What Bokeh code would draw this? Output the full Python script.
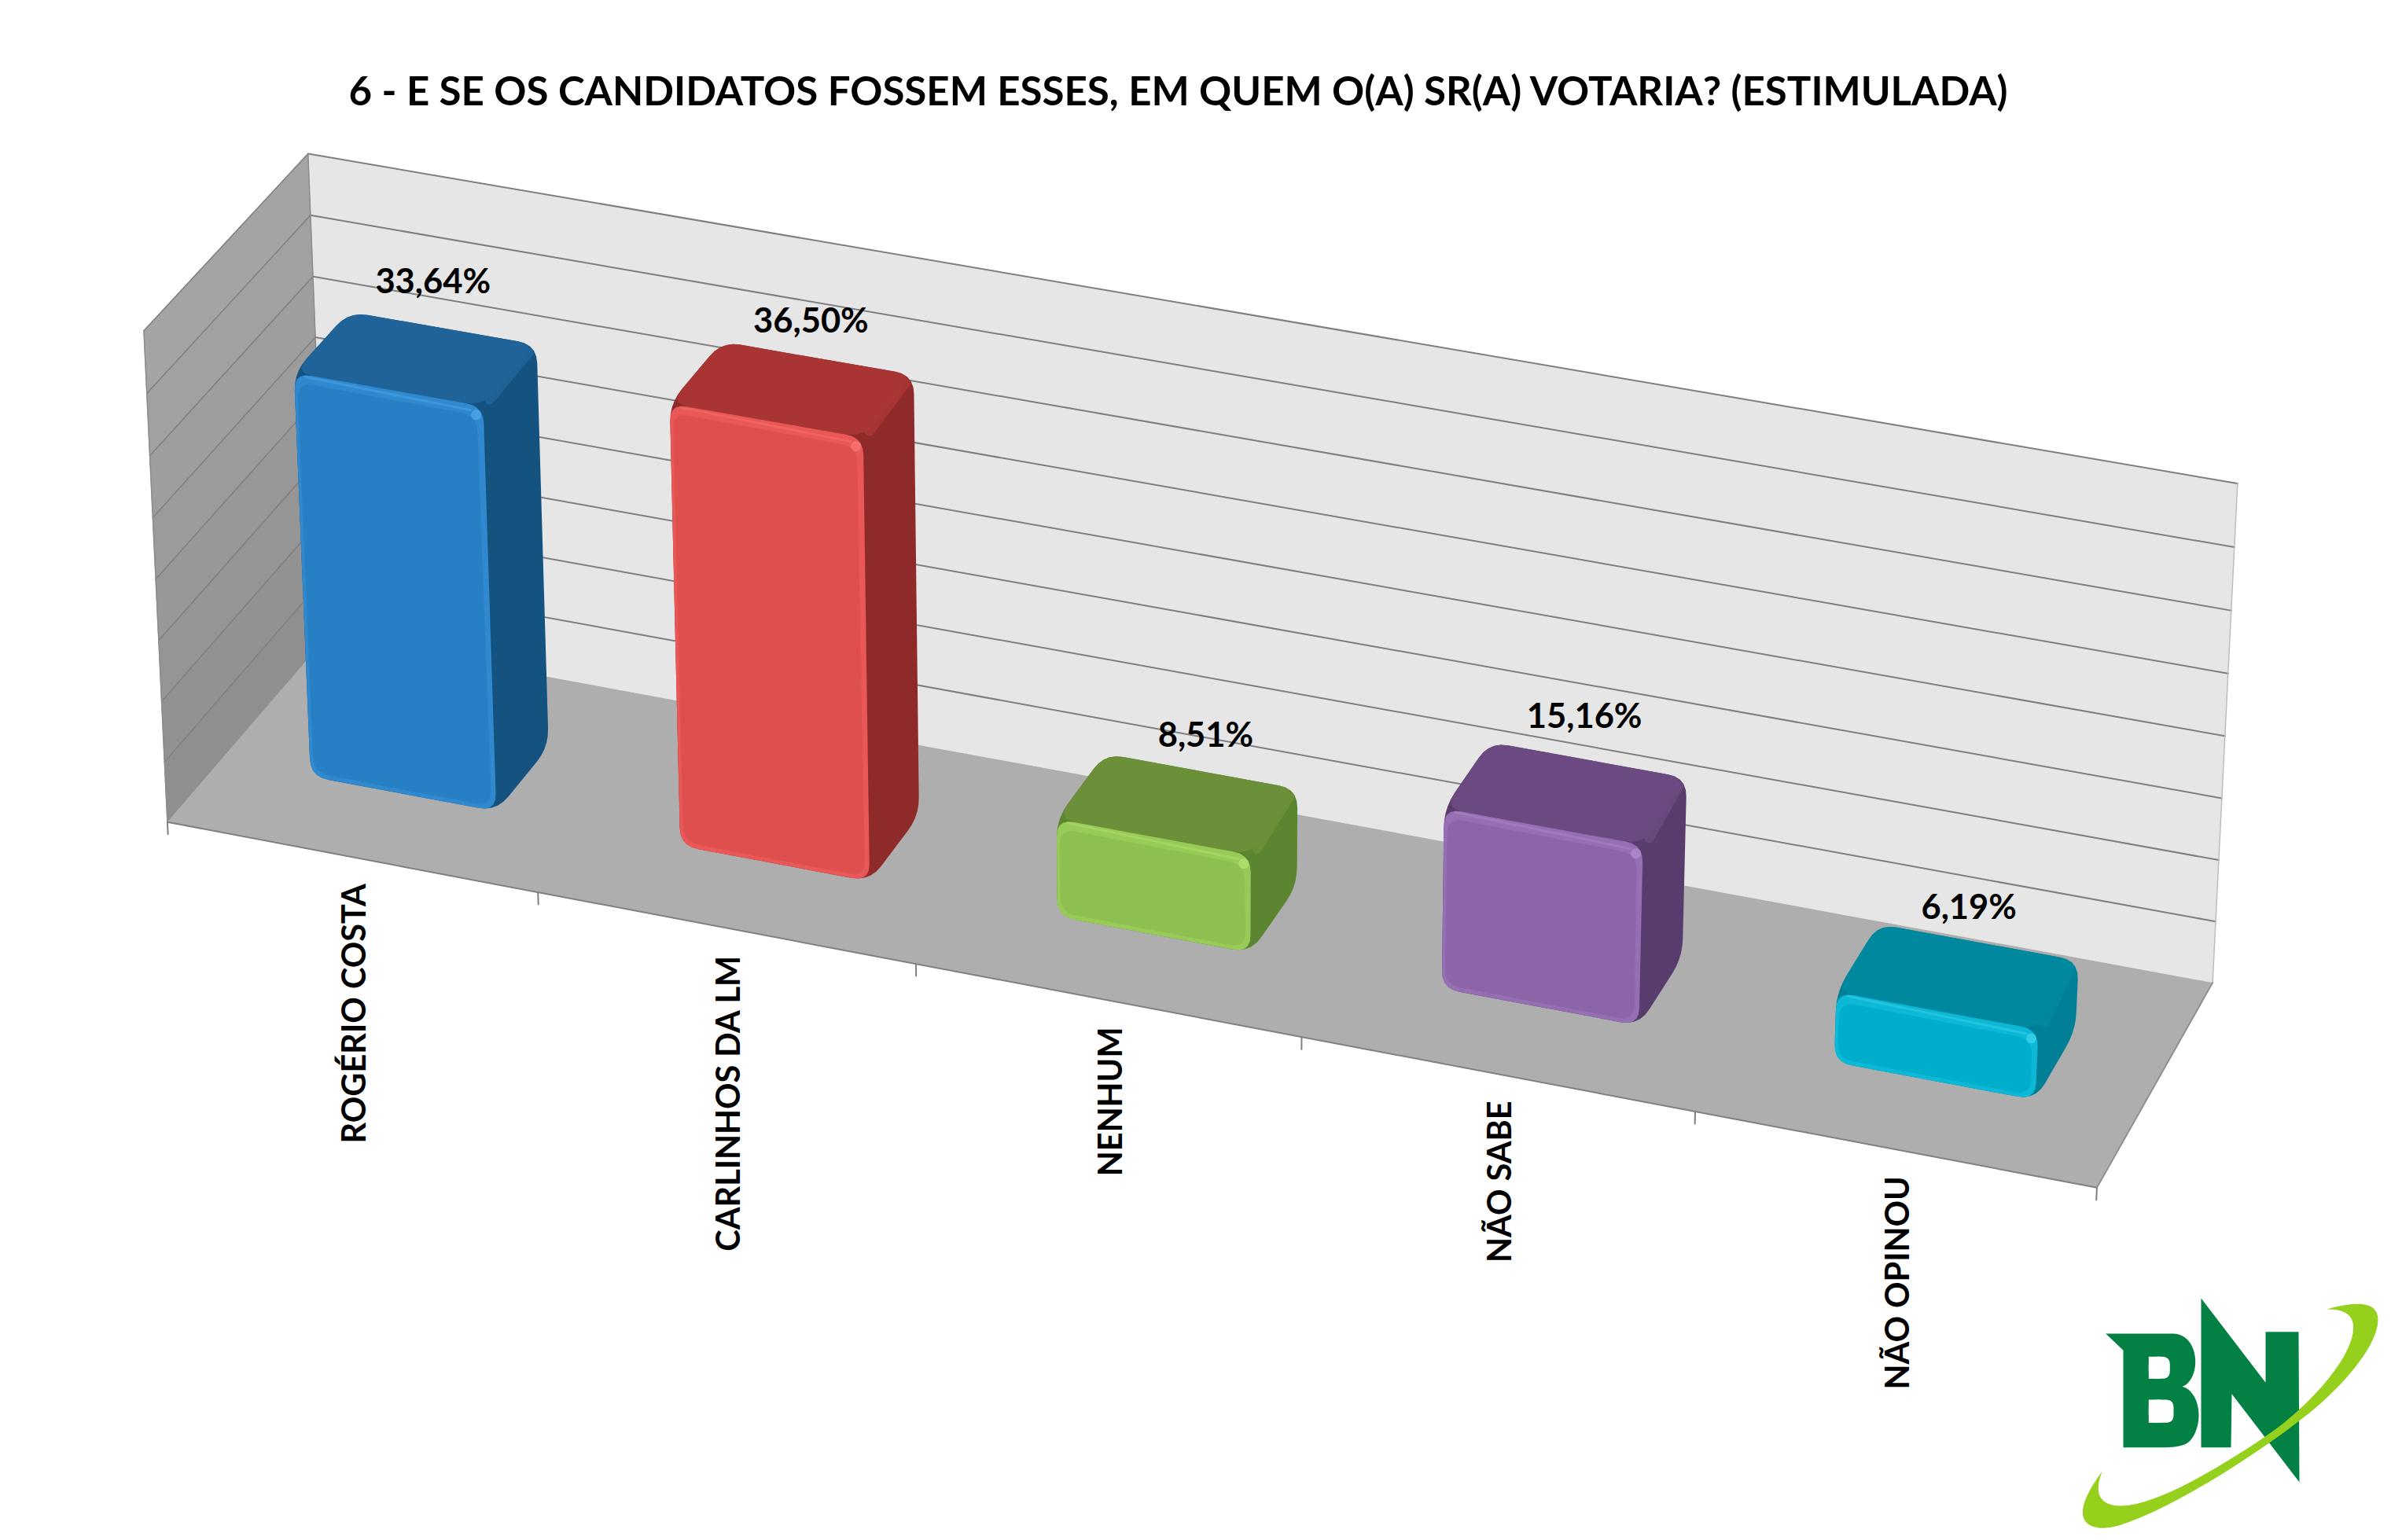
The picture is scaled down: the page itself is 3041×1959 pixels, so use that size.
import numpy as np
from bokeh.plotting import figure
from bokeh.embed import file_html
from bokeh.resources import INLINE
from bokeh.core.properties import value as fontv

# ---------- data ----------
title_text = "6 - E SE OS CANDIDATOS FOSSEM ESSES, EM QUEM O(A) SR(A) VOTARIA? (ESTIMULADA)"
categories = ["ROGÉRIO COSTA", "CARLINHOS DA LM", "NENHUM", "NÃO SABE", "NÃO OPINOU"]
percentages = [33.64, 36.50, 8.51, 15.16, 6.19]
value_labels = ["33,64%", "36,50%", "8,51%", "15,16%", "6,19%"]
axis_max = 40
axis_step = 5

# ---------- styles ----------
front_colors = ["#2880C4", "#DE4F4D", "#8FBF51", "#8C64A8", "#00AECB"]
rim_colors = ["#3089CF", "#E95856", "#98CA57", "#966EB2", "#0CB8D5"]
spot_colors = ["#4FA6E8", "#F77472", "#B4E06E", "#AE8ACA", "#3DD2EA"]
top_colors = ["#1F6399", "#A83534", "#6C9039", "#6A4A80", "#00889F"]
side_colors = ["#14527F", "#8E2B2A", "#5B8530", "#583C6D", "#007F96"]
label_dx = [-23, -19, -4, -14, -21]
label_dy = [4, 16, 18, 8, 20]
FONT = fontv("Lato")
W, H = 3033, 1951
OFF = 0

# ---------- 3D chart space -> picture (perspective camera fitted on the box corners) ----------
calib = [((0, 0, 0), (213, 1043)), ((5, 0, 0), (2668, 1510)), ((0, 1, 0), (415, 812)),
         ((5, 1, 0), (2814, 1247)), ((0, 1, 1), (392, 193)), ((5, 1, 1), (2845, 616)),
         ((0, 0, 1), (182, 421)), ((1, 0, 0), (684, 1134)), ((2, 0, 0), (1165, 1227)),
         ((3, 0, 0), (1654, 1318)), ((4, 0, 0), (2154, 1415))]
A = []
for (X, Y, Z), (x, y) in calib:
    x, y = x / 1000, y / 1000
    A.append([X, Y, Z, 1, 0, 0, 0, 0, -x * X, -x * Y, -x * Z, -x])
    A.append([0, 0, 0, 0, X, Y, Z, 1, -y * X, -y * Y, -y * Z, -y])
P = np.linalg.svd(np.array(A, float))[2][-1].reshape(3, 4)


def pr(u, v, val):
    q = P @ np.array([u, v, val / axis_max, 1.0])
    return np.array([q[0] / q[2] * 1000, q[1] / q[2] * 1000])


def rounded(pts, r, n=6):
    pts = [np.array(p, float) for p in pts]
    out = []
    m = len(pts)
    for i in range(m):
        a, b, c = pts[i - 1], pts[i], pts[(i + 1) % m]
        rr1 = min(r, np.linalg.norm(a - b) * 0.45)
        rr2 = min(r, np.linalg.norm(c - b) * 0.45)
        s = b + (a - b) / np.linalg.norm(a - b) * rr1
        e = b + (c - b) / np.linalg.norm(c - b) * rr2
        for t in np.linspace(0, 1, n):
            out.append((1 - t) ** 2 * s + 2 * t * (1 - t) * b + t ** 2 * e)
    return np.array(out)


p = figure(width=W, height=H, output_backend="svg", toolbar_location=None,
           x_range=(OFF, OFF + W), y_range=(OFF + H, OFF),
           x_axis_type=None, y_axis_type=None, min_border=0,
           outline_line_color=None, background_fill_color="white")
p.grid.visible = False
p.border_fill_color = "white"


def poly(pts, **kw):
    pts = np.array(pts)
    p.patch(pts[:, 0], pts[:, 1], line_color=kw.pop("line_color", None), **kw)


def seg(pts, color, width, alpha=1.0):
    pts = np.array(pts)
    p.line(pts[:, 0], pts[:, 1], line_color=color, line_width=width, line_alpha=alpha, line_cap="round")


# ---------- walls ----------
n_cat = len(categories)
levels = list(range(0, axis_max + 1, axis_step))
poly([pr(0, 1, 0), pr(n_cat, 1, 0), pr(n_cat, 1, axis_max), pr(0, 1, axis_max)], fill_color="#E6E6E6")
side_shades = ["#8F8F8F", "#929292", "#959595", "#989898", "#9B9B9B", "#9E9E9E", "#A1A1A1", "#A4A4A4"]
for i in range(len(levels) - 1):
    poly([pr(0, 0, levels[i]), pr(0, 1, levels[i]), pr(0, 1, levels[i + 1]), pr(0, 0, levels[i + 1])],
         fill_color=side_shades[i], line_color=side_shades[i], line_width=1)
poly([pr(0, 0, 0), pr(n_cat, 0, 0), pr(n_cat, 1, 0), pr(0, 1, 0)], fill_color="#AEAEAE")
for lv in levels:
    if lv == 0:
        continue
    seg([pr(0, 1, lv), pr(n_cat, 1, lv)], "#7F7F7F", 2)
    seg([pr(0, 0, lv), pr(0, 1, lv)], "#7F7F7F", 1.5)
seg([pr(0, 1, axis_max), pr(0, 1, 0)], "#8C8C8C", 1.5)
seg([pr(n_cat, 1, axis_max), pr(n_cat, 1, 0)], "#BDBDBD", 1.5)
seg([pr(0, 0, axis_max), pr(0, 0, 0)], "#8C8C8C", 1.5)
seg([pr(0, 0, 0), pr(n_cat, 0, 0)], "#808080", 2)
seg([pr(n_cat, 0, 0), pr(n_cat, 1, 0)], "#909090", 2)
for i in range(n_cat + 1):
    seg([pr(i, 0, 0), pr(i, 0, -1.0)], "#808080", 2)

# ---------- bars ----------
U0, U1, V0, V1 = 0.245, 0.75, 0.33, 0.67
BEVEL = 0.5   # the rounded bevel eats a little of the top of each bar
for i, val in enumerate(percentages):
    u0, u1 = i + U0, i + U1
    t = val - BEVEL
    fbl, fbr = pr(u0, V0, 0), pr(u1, V0, 0)
    ftl, ftr = pr(u0, V0, t), pr(u1, V0, t)
    bbr = pr(u1, V1, 0)
    btr, btl = pr(u1, V1, t), pr(u0, V1, t)
    poly(rounded([fbl, fbr, bbr, btr, btl, ftl], 24), fill_color=side_colors[i])
    poly(rounded([ftl, ftr, btr, btl], 24), fill_color=top_colors[i])
    seg([ftr + (8, -8), btr + (-10, 10)], top_colors[i], 12, 0.9)
    poly(rounded([fbl, fbr, ftr, ftl], 22), fill_color=rim_colors[i])
    inner = [fbl + (4, -5), fbr + (-6, -6), ftr + (-8, 12), ftl + (4, 12)]
    poly(rounded(inner, 20), fill_color=front_colors[i])
    seg([ftl + (14, 5), ftr + (-16, 5)], spot_colors[i], 3, 0.45)
    p.scatter([ftr[0] - 9], [ftr[1] + 11], size=13, marker="circle", fill_color=spot_colors[i],
              fill_alpha=0.8, line_color=None)

# ---------- texts ----------
p.text([1499], [114], text=[title_text], text_font=FONT, text_font_style="bold",
       text_font_size="51px", text_align="center", text_baseline="middle", text_color="black")

lab = np.array([pr(i + 0.5, 0.72, v) + (label_dx[i], -46 + label_dy[i]) for i, v in enumerate(percentages)])
p.text(lab[:, 0], lab[:, 1], text=value_labels, text_font=FONT, text_font_style="bold",
       text_font_size="43.5px", text_align="center", text_baseline="middle", text_color="black")

cat = np.array([pr(i + 0.5, 0, 0) + (2, 34) for i in range(n_cat)])
p.text(cat[:, 0], cat[:, 1], text=categories, text_font=FONT, text_font_style="bold",
       text_font_size="41.5px", text_align="right", text_baseline="middle", angle=np.pi / 2,
       text_color="black")

# ---------- logo (decoration, not data) ----------
LOGO_X, LOGO_Y, LOGO_S = 2600, 1600, 1 / 3


def logo(pts):
    a = np.array(pts, float)
    return a[:, 0] * LOGO_S + LOGO_X, a[:, 1] * LOGO_S + LOGO_Y


def bez(*segs):
    out = []
    for s in segs:
        s = np.array(s, float)
        for t in np.linspace(0, 1, 16):
            out.append((1 - t) ** 3 * s[0] + 3 * t * (1 - t) ** 2 * s[1] + 3 * t ** 2 * (1 - t) * s[2] + t ** 3 * s[3])
    return out


G = "#038043"
L = "#94D01C"
b_outline = [(233, 288), (490, 288)] + bez(((490, 288), (545, 288), (575, 340), (575, 395)),
                                           ((575, 395), (575, 440), (555, 480), (525, 490)),
                                           ((525, 490), (565, 500), (588, 550), (588, 600)),
                                           ((588, 600), (588, 650), (565, 695), (540, 708)),
                                           ((540, 708), (520, 718), (490, 722), (460, 722))) + [(300, 722), (300, 352)]
x, y = logo(b_outline)
p.patch(x, y, fill_color=G, line_color=None)
for hole in ([(397, 376), (478, 376), (478, 460), (397, 460)], [(397, 540), (492, 540), (492, 628), (397, 628)]):
    x, y = logo(rounded(hole, 30))
    p.patch(x, y, fill_color="white", line_color=None)
x, y = logo([(397, 376), (440, 376), (440, 460), (397, 460)])
p.patch(x, y, fill_color="white", line_color=None)
x, y = logo([(397, 540), (440, 540), (440, 628), (397, 628)])
p.patch(x, y, fill_color="white", line_color=None)
x, y = logo([(597, 153), (843, 475), (843, 281), (969, 281), (972, 855), (714, 518), (711, 722), (597, 722)])
p.patch(x, y, fill_color=G, line_color=None)
swoosh = bez(((1077, 195), (1180, 165), (1272, 160), (1272, 235)),
             ((1272, 235), (1272, 340), (1120, 510), (970, 622)),
             ((970, 622), (700, 830), (340, 1030), (225, 1030)),
             ((225, 1030), (170, 1030), (145, 1005), (145, 970)),
             ((145, 970), (145, 920), (190, 855), (220, 812)),
             ((220, 812), (205, 850), (205, 870), (205, 880)),
             ((205, 880), (205, 925), (240, 945), (290, 945)),
             ((290, 945), (420, 945), (650, 810), (840, 682)),
             ((840, 682), (1000, 575), (1178, 380), (1178, 265)),
             ((1178, 265), (1178, 215), (1140, 193), (1077, 195)))
x, y = logo(swoosh)
p.patch(x, y, fill_color=L, line_color=None)

open("out.html", "w").write(file_html(p, INLINE))
